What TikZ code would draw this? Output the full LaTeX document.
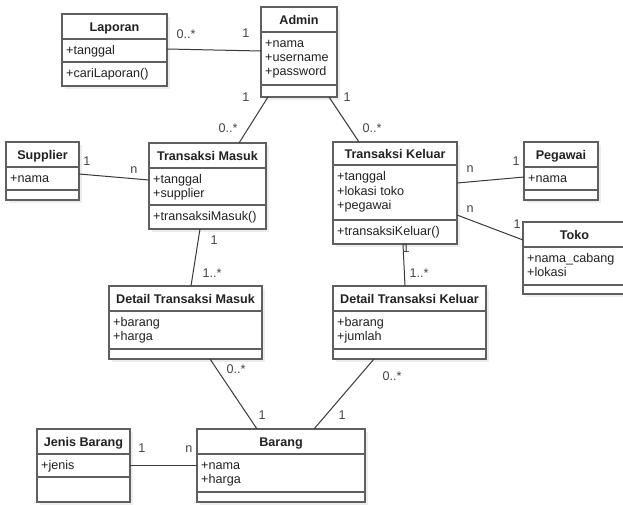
\documentclass[tikz,border=0pt]{standalone}
\usepackage{fontspec}
\setmainfont{Liberation Sans}
\usetikzlibrary{fit,shadows,calc}
\definecolor{boxline}{HTML}{5F5F5F}
\definecolor{txt}{HTML}{222222}
\definecolor{lbl}{HTML}{444444}
\definecolor{conn}{HTML}{3A3A3A}
\newcommand\aline[1]{\hbox{#1}}
\newcommand\umlfont{\fontsize{12.6}{14.3}\selectfont}
\tikzset{
  classbox/.style={draw=boxline, line width=1.4pt, fill=white, inner sep=0pt, outer sep=0pt,
    drop shadow={shadow xshift=3pt, shadow yshift=-3pt, fill=black!7, opacity=1}},
  classline/.style={draw=boxline, line width=1.4pt},
  titletext/.style={font=\umlfont\bfseries, text=txt, inner sep=0pt, anchor=base},
  attrtext/.style={font=\umlfont, text=txt, inner sep=0pt, anchor=base west},
  assoc/.style={draw=conn, line width=1pt},
  mult/.style={font=\umlfont, text=lbl, inner sep=0pt, anchor=base},
}
% #1 id, #2 x1, #3 y1, #4 x2, #5 y2, #6 header y, #7 separator y, #8 title
\newcommand\umlclass[8]{%
  \node[classbox, fit={(#2,#3) (#4,#5)}] (#1) {};
  \draw[classline] (#2,#6) -- (#4,#6);
  \draw[classline] (#2,#7) -- (#4,#7);
  \node[titletext] (#1-title) at ({(#2+#4)/2},{(#3+#6)/2+5}) {#8};
}
\begin{document}
\begin{tikzpicture}[x=1pt,y=-1pt]
\useasboundingbox (0,0) rectangle (623,504);
\clip (0,0) rectangle (623,504);
\fill[white] (0,0) rectangle (623,504);

% classes
\umlclass{laporan}{62}{14}{167}{86}{39}{62}{Laporan}
\node[attrtext] (laporan-attr) at (66,54.5) {\vtop{\aline{+tanggal}}};
\node[attrtext] (laporan-meth) at (66,77.5) {\vtop{\aline{+cariLaporan()}}};

\umlclass{admin}{261}{7}{337}{97}{32}{85}{Admin}
\node[attrtext] (admin-attr) at (265,47) {\vtop{\aline{+nama}\aline{+username}\aline{+password}}};

\umlclass{supplier}{6}{142}{79}{200}{167}{190}{Supplier}
\node[attrtext] (supplier-attr) at (10,182.5) {\vtop{\aline{+nama}}};

\umlclass{tm}{149}{143}{266}{229}{168}{205}{Transaksi Masuk}
\node[attrtext] (tm-attr) at (153,183.5) {\vtop{\aline{+tanggal}\aline{+supplier}}};
\node[attrtext] (tm-meth) at (153,220.5) {\vtop{\aline{+transaksiMasuk()}}};

\umlclass{tk}{333}{142}{457}{244}{165}{220}{Transaksi Keluar}
\node[attrtext] (tk-attr) at (337,180.7) {\vtop{\aline{+tanggal}\aline{+lokasi toko}\aline{+pegawai}}};
\node[attrtext] (tk-meth) at (337,235) {\vtop{\aline{+transaksiKeluar()}}};

\umlclass{pegawai}{524}{142}{598}{200}{167}{190}{Pegawai}
\node[attrtext] (pegawai-attr) at (528,182.5) {\vtop{\aline{+nama}}};

\umlclass{toko}{523}{222}{626}{294}{247}{285}{Toko}
\node[attrtext] (toko-attr) at (527,262.5) {\vtop{\aline{+nama\_cabang}\aline{+lokasi}}};

\umlclass{dtm}{109}{286}{262}{359}{311}{349}{Detail Transaksi Masuk}
\node[attrtext] (dtm-attr) at (113,326.5) {\vtop{\aline{+barang}\aline{+harga}}};

\umlclass{dtk}{333}{286}{486}{359}{311}{349}{Detail Transaksi Keluar}
\node[attrtext] (dtk-attr) at (337,326.5) {\vtop{\aline{+barang}\aline{+jumlah}}};

\umlclass{jb}{37}{429}{130}{502}{454}{477}{Jenis Barang}
\node[attrtext] (jb-attr) at (41,469.5) {\vtop{\aline{+jenis}}};

\umlclass{barang}{197}{429}{365}{502}{454}{492}{Barang}
\node[attrtext] (barang-attr) at (201,469.5) {\vtop{\aline{+nama}\aline{+harga}}};

% associations
\draw[assoc] ($(laporan.north east)+(0,35)$) -- ($(admin.north west)+(0,44)$);
\draw[assoc] ($(admin.south west)+(7,0)$) -- ($(tm.north west)+(90,0)$);
\draw[assoc] ($(admin.south west)+(68,0)$) -- ($(tk.north west)+(26,0)$);
\draw[assoc] ($(supplier.north east)+(0,32)$) -- ($(tm.north west)+(0,37)$);
\draw[assoc] ($(tk.north east)+(0,41)$) -- ($(pegawai.north west)+(0,35)$);
\draw[assoc] ($(tk.north east)+(0,73)$) -- ($(toko.north west)+(0,18)$);
\draw[assoc] ($(tm.south west)+(51,0)$) -- ($(dtm.north west)+(82,0)$);
\draw[assoc] ($(tk.south west)+(70,0)$) -- ($(dtk.north west)+(72,0)$);
\draw[assoc] ($(dtm.south west)+(101,0)$) -- ($(barang.north west)+(60,0)$);
\draw[assoc] ($(dtk.south west)+(41,0)$) -- ($(barang.north west)+(117,0)$);
\draw[assoc] ($(jb.north east)+(0,36)$) -- ($(barang.north west)+(0,36)$);

% multiplicities
\node[mult] (m1) at (186,38) {0..*};
\node[mult] (m2) at (246,37) {1};
\node[mult] (m3) at (246,101) {1};
\node[mult] (m4) at (228,132) {0..*};
\node[mult] (m5) at (347,101) {1};
\node[mult] (m6) at (372,132) {0..*};
\node[mult] (m7) at (87,165) {1};
\node[mult] (m8) at (134,173) {n};
\node[mult] (m9) at (470,172) {n};
\node[mult] (m10) at (516,165) {1};
\node[mult] (m11) at (470,212) {n};
\node[mult] (m12) at (517,228) {1};
\node[mult] (m13) at (214,244) {1};
\node[mult] (m14) at (212,277) {1..*};
\node[mult] (m15) at (406,252) {1};
\node[mult] (m16) at (419,277) {1..*};
\node[mult] (m17) at (236,373) {0..*};
\node[mult] (m18) at (262,419) {1};
\node[mult] (m19) at (392,380) {0..*};
\node[mult] (m20) at (342,419) {1};
\node[mult] (m21) at (142,452) {1};
\node[mult] (m22) at (189,452) {n};
\end{tikzpicture}
\end{document}
